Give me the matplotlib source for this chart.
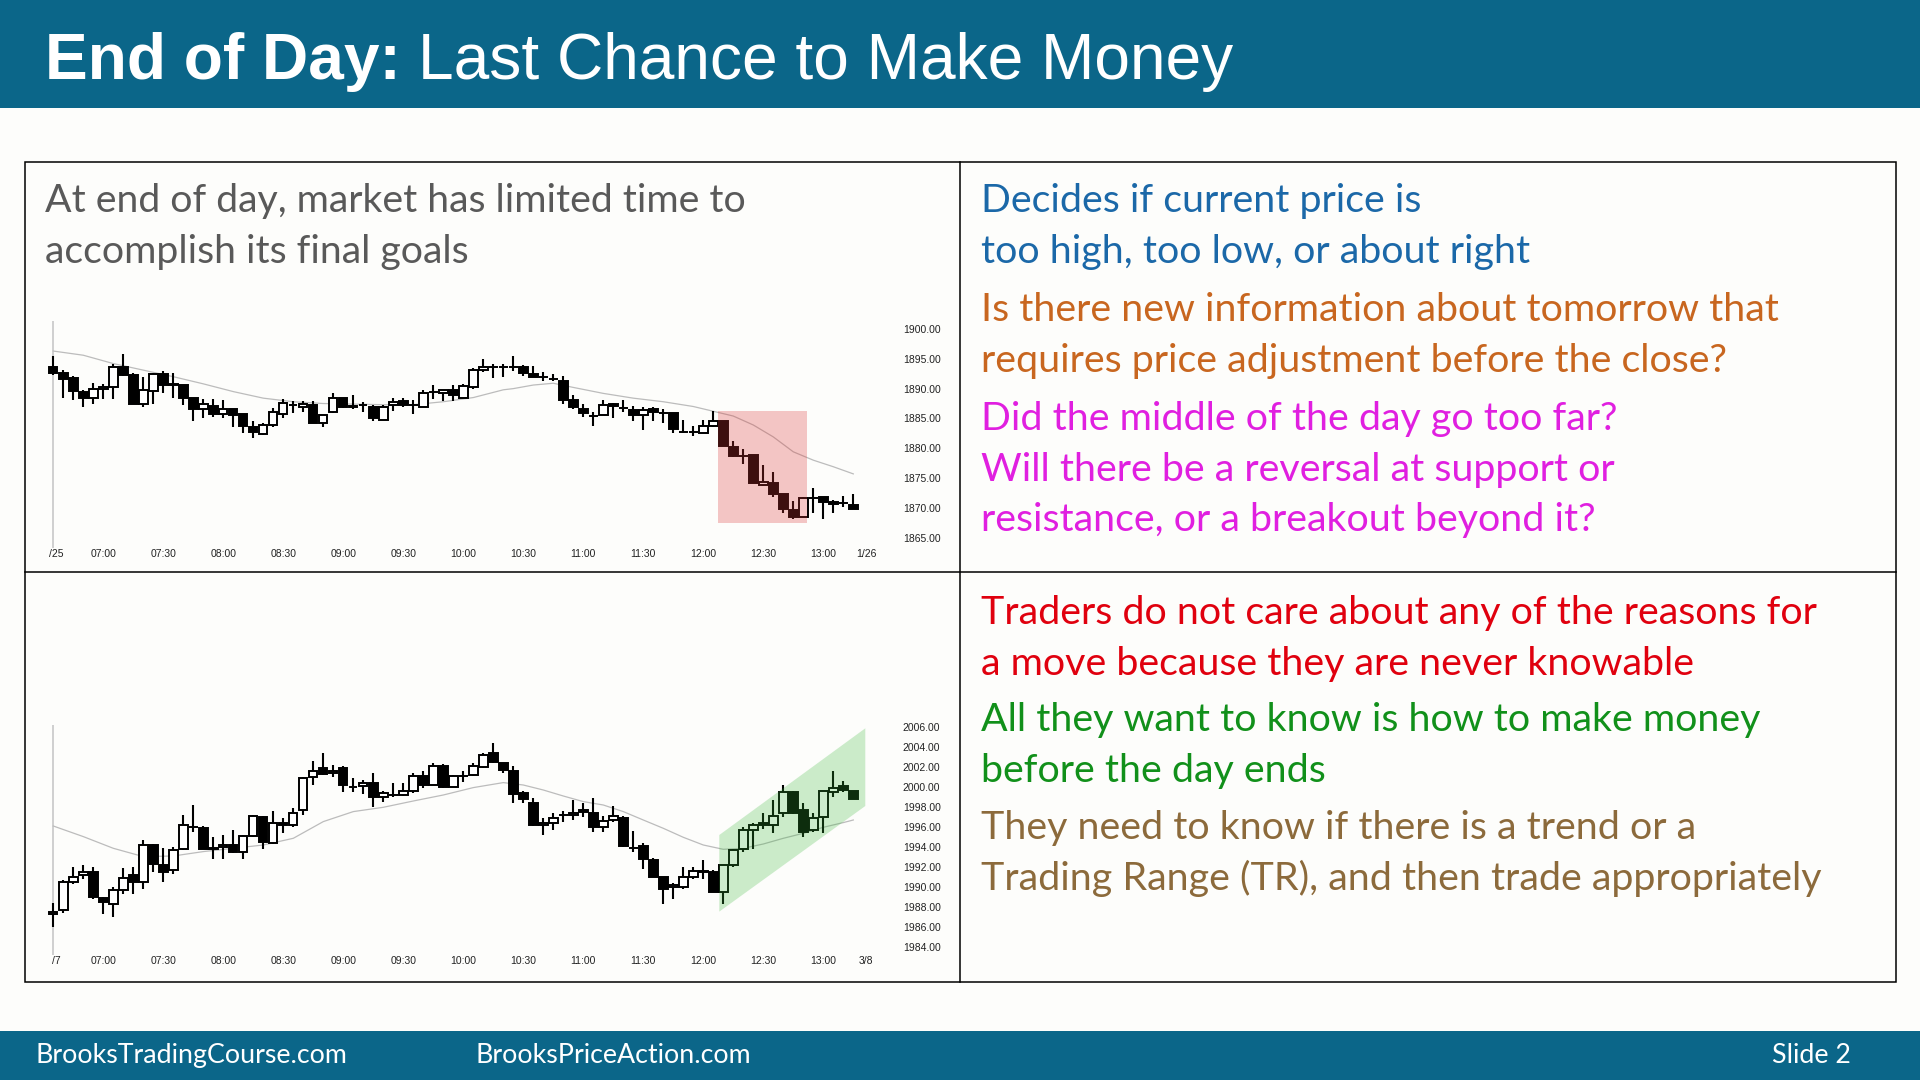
import matplotlib
matplotlib.use('Agg')
import matplotlib.pyplot as plt
from matplotlib.patches import Rectangle, Polygon
from matplotlib.ticker import FormatStrFormatter
import numpy as np

# ---- top chart: 5 min bars, 1/25 (open, high, low, close) ----
top_open = [1893.7, 1892.7, 1891.7, 1889.5, 1888.5, 1890.0, 1890.2, 1893.7, 1892.2, 1887.5,
            1889.6, 1892.4, 1890.7, 1890.6, 1888.4, 1886.5, 1887.1, 1885.7, 1886.6, 1885.7,
            1883.5, 1882.4, 1883.9, 1885.7, 1887.3, 1886.9, 1887.2, 1884.2, 1886.0, 1888.4,
            1887.1, 1887.2, 1887.0, 1884.7, 1887.2, 1887.9, 1887.2, 1887.0, 1889.5, 1889.3,
            1889.8, 1888.5, 1890.2, 1893.1, 1893.6, 1893.6, 1893.6, 1893.7, 1892.5, 1891.9,
            1891.6, 1891.3, 1888.1, 1886.6, 1885.4, 1885.5, 1887.5, 1886.7, 1886.4, 1885.6,
            1886.6, 1885.9, 1885.9, 1882.8, 1882.8, 1882.6, 1883.7, 1884.6, 1880.2, 1878.7,
            1878.9, 1873.9, 1874.2, 1872.3, 1869.6, 1868.5, 1871.7, 1871.9, 1871.0, 1870.8,
            1870.4]
top_high = [1895.4, 1893.1, 1892.1, 1889.8, 1890.9, 1890.8, 1894.2, 1895.8, 1892.7, 1892.0,
            1892.6, 1893.0, 1892.7, 1890.6, 1888.5, 1888.2, 1888.2, 1888.1, 1886.6, 1885.7,
            1884.6, 1884.3, 1886.7, 1888.2, 1888.0, 1888.0, 1888.0, 1885.6, 1889.2, 1888.5,
            1888.9, 1887.8, 1887.3, 1887.3, 1888.5, 1888.5, 1888.1, 1889.7, 1890.6, 1889.8,
            1890.6, 1890.8, 1893.4, 1894.9, 1894.2, 1894.2, 1895.4, 1894.0, 1893.8, 1892.8,
            1892.5, 1892.1, 1888.9, 1887.5, 1886.1, 1888.1, 1887.6, 1888.1, 1887.1, 1886.9,
            1887.0, 1886.5, 1885.9, 1884.7, 1883.7, 1884.8, 1886.2, 1884.6, 1881.2, 1879.8,
            1878.9, 1877.2, 1876.0, 1872.3, 1871.2, 1871.8, 1873.4, 1871.9, 1871.3, 1872.0,
            1872.3]
top_low = [1892.3, 1888.5, 1888.1, 1886.9, 1887.5, 1888.2, 1888.2, 1892.1, 1887.5, 1886.9,
           1887.4, 1889.2, 1888.5, 1887.3, 1884.5, 1885.0, 1885.2, 1885.0, 1883.5, 1882.5,
           1881.8, 1882.2, 1883.5, 1885.0, 1885.9, 1886.1, 1884.2, 1883.5, 1885.9, 1886.7,
           1886.5, 1886.1, 1884.5, 1884.7, 1886.3, 1886.9, 1885.7, 1886.9, 1888.2, 1888.0,
           1888.0, 1888.5, 1890.0, 1892.8, 1891.7, 1892.0, 1893.0, 1892.1, 1891.9, 1891.3,
           1891.2, 1887.5, 1886.5, 1885.2, 1883.7, 1885.5, 1885.0, 1886.0, 1884.6, 1883.1,
           1884.6, 1884.3, 1882.6, 1882.5, 1882.1, 1882.5, 1883.6, 1880.3, 1878.6, 1877.4,
           1874.1, 1873.6, 1871.9, 1869.1, 1868.1, 1868.4, 1869.1, 1868.1, 1869.1, 1870.2,
           1869.8]
top_close = [1892.7, 1891.6, 1889.6, 1888.5, 1889.9, 1890.2, 1893.7, 1892.2, 1887.5, 1889.7,
             1892.4, 1890.6, 1890.6, 1888.5, 1886.5, 1887.4, 1885.7, 1886.6, 1885.6, 1883.7,
             1882.8, 1883.9, 1886.0, 1887.6, 1887.2, 1887.4, 1884.3, 1885.6, 1888.4, 1887.0,
             1887.0, 1887.2, 1885.0, 1887.0, 1887.8, 1887.2, 1887.2, 1889.2, 1889.5, 1889.7,
             1888.9, 1890.4, 1893.2, 1893.7, 1893.6, 1893.6, 1893.6, 1892.7, 1892.0, 1891.9,
             1891.6, 1888.1, 1887.0, 1885.9, 1885.4, 1887.3, 1887.1, 1886.7, 1885.6, 1886.4,
             1886.1, 1885.9, 1883.3, 1882.8, 1882.8, 1883.7, 1884.6, 1880.4, 1878.7, 1878.7,
             1874.2, 1874.3, 1872.3, 1869.8, 1868.5, 1871.7, 1871.7, 1871.0, 1870.6, 1870.8,
             1869.8]
top_ema_bar = [0, 3, 6, 9, 12, 15, 18, 21, 24, 27, 30, 33, 36, 39, 42, 45, 46, 48, 50, 52,
               55, 58, 61, 64, 66, 68, 70, 72, 74, 76, 78, 80]
top_ema = [1896.3, 1895.6, 1894.2, 1893.1, 1892.0, 1890.8, 1889.5, 1888.4, 1887.8, 1887.5,
           1887.4, 1887.3, 1887.3, 1887.8, 1888.5, 1889.8, 1890.0, 1890.6, 1890.9, 1890.2,
           1889.2, 1888.4, 1887.8, 1887.0, 1886.2, 1885.4, 1883.9, 1881.9, 1879.4, 1878.0,
           1876.9, 1875.7]
top_zone = [66.5, 75.4, 1867.4, 1886.2]  # bar from, bar to, price low, price high
top_price_ticks = [1865, 1870, 1875, 1880, 1885, 1890, 1895, 1900]
top_dates = ['/25', '1/26']

# ---- bottom chart: 5 min bars, 3/7 ----
bot_open = [1987.33, 1987.73, 1990.5, 1991.27, 1991.5, 1988.97, 1988.3, 1989.73, 1991.23, 1990.5,
            1994.2, 1992.2, 1991.73, 1993.8, 1996.0, 1995.97, 1993.87, 1994.0, 1994.2, 1993.5,
            1995.17, 1997.0, 1994.47, 1996.47, 1996.23, 1997.73, 2001.0, 2001.9, 2001.47, 2001.9,
            2000.0, 2000.17, 2000.47, 1999.0, 1999.23, 1999.23, 1999.67, 2001.17, 2000.23, 2002.17,
            2000.07, 2001.1, 2001.23, 2002.07, 2003.4, 2002.4, 2001.67, 1999.4, 1998.47, 1996.2,
            1996.47, 1997.23, 1997.23, 1997.73, 1997.4, 1996.0, 1996.73, 1996.9, 1993.97, 1994.17,
            1992.73, 1991.0, 1990.07, 1990.07, 1991.0, 1991.5, 1991.5, 1989.5, 1992.23, 1993.8,
            1995.73, 1996.4, 1996.23, 1997.47, 1999.5, 1997.73, 1995.73, 1997.0, 1999.57, 2000.13,
            1999.63]
bot_high = [1988.47, 1990.73, 1992.0, 1992.23, 1992.07, 1989.07, 1990.07, 1991.97, 1992.07, 1994.73,
            1994.33, 1993.93, 1994.0, 1997.23, 1998.23, 1996.13, 1995.0, 1995.2, 1995.73, 1995.23,
            1997.23, 1997.17, 1997.67, 1996.9, 1997.9, 2001.0, 2002.67, 2003.4, 2002.23, 2002.13,
            2000.9, 2000.73, 2001.4, 1999.67, 2000.4, 2000.47, 2001.4, 2001.67, 2002.47, 2002.3,
            2001.23, 2001.67, 2002.47, 2003.4, 2004.47, 2002.47, 2002.13, 1999.67, 1998.9, 1996.9,
            1997.47, 1997.67, 1998.73, 1998.4, 1998.9, 1997.13, 1998.13, 1997.13, 1995.67, 1994.4,
            1992.97, 1991.0, 1990.4, 1992.07, 1992.07, 1992.73, 1991.73, 1992.23, 1993.8, 1996.0,
            1996.4, 1997.47, 1998.73, 2000.23, 1999.67, 1998.47, 1997.4, 1999.67, 2001.67, 2000.67,
            1999.63]
bot_low = [1986.07, 1987.47, 1990.33, 1990.8, 1988.83, 1987.3, 1987.07, 1989.33, 1989.3, 1989.8,
           1991.57, 1990.57, 1991.33, 1993.73, 1995.57, 1993.8, 1992.8, 1992.8, 1993.47, 1992.8,
           1995.0, 1993.8, 1994.33, 1995.47, 1996.07, 1997.23, 2000.23, 2001.23, 2001.07, 1999.57,
           1999.57, 1999.33, 1998.0, 1998.57, 1999.07, 1999.13, 1999.47, 1999.9, 2000.23, 1999.9,
           2000.07, 2000.57, 2001.13, 2001.9, 2002.4, 2001.47, 1998.47, 1998.47, 1996.13, 1995.23,
           1995.73, 1996.57, 1996.73, 1997.07, 1995.57, 1995.57, 1996.57, 1994.0, 1993.57, 1991.8,
           1991.0, 1988.33, 1988.8, 1989.8, 1990.8, 1990.8, 1989.57, 1988.33, 1992.07, 1993.57,
           1993.8, 1995.8, 1995.47, 1997.0, 1997.33, 1995.07, 1995.57, 1995.47, 1999.0, 1999.5,
           1998.8]
bot_close = [1987.5, 1990.5, 1991.0, 1991.5, 1989.07, 1988.57, 1989.73, 1990.97, 1990.57, 1994.2,
             1992.3, 1991.57, 1993.73, 1996.2, 1996.0, 1993.8, 1993.97, 1994.2, 1993.57, 1995.17,
             1997.17, 1994.53, 1996.4, 1996.27, 1997.4, 2000.9, 2001.67, 2001.3, 2001.67, 2000.23,
             2000.0, 2000.47, 1999.0, 1999.4, 1999.23, 1999.67, 2001.17, 2000.23, 2002.17, 2000.07,
             2001.17, 2001.1, 2002.17, 2003.23, 2002.5, 2001.73, 1999.33, 1998.8, 1996.2, 1996.47,
             1996.9, 1997.23, 1997.4, 1997.5, 1996.0, 1996.67, 1997.13, 1994.13, 1993.97, 1992.8,
             1991.0, 1989.8, 1990.2, 1991.0, 1991.67, 1991.67, 1989.57, 1992.23, 1993.73, 1995.73,
             1996.2, 1996.23, 1997.17, 1999.5, 1997.47, 1995.5, 1996.9, 1999.67, 1999.9, 1999.73,
             1998.8]
bot_ema_bar = [0, 3, 6, 9, 12, 15, 18, 21, 24, 27, 30, 33, 36, 39, 42, 45, 47, 49, 51, 53,
               55, 57, 59, 61, 63, 65, 67, 69, 71, 73, 75, 77, 79, 80]
bot_ema = [1996.13, 1995.07, 1993.9, 1993.07, 1993.13, 1993.57, 1993.9, 1994.23, 1994.9, 1996.57,
           1997.57, 1998.0, 1998.63, 1999.23, 1999.97, 2000.47, 2000.23, 1999.73, 1999.13, 1998.57,
           1998.23, 1997.57, 1996.73, 1995.9, 1995.0, 1994.23, 1993.8, 1993.9, 1994.33, 1994.9,
           1995.4, 1996.0, 1996.47, 1996.73]
bot_channel_bar = [66.6, 66.6, 81.2, 81.2]
bot_channel_price = [1987.57, 1995.23, 2005.9, 1998.13]
bot_price_ticks = [1984, 1986, 1988, 1990, 1992, 1994, 1996, 1998, 2000, 2002, 2004, 2006]
bot_dates = ['/7', '3/8']

time_labels = ['07:00', '07:30', '08:00', '08:30', '09:00', '09:30', '10:00',
               '10:30', '11:00', '11:30', '12:00', '12:30', '13:00']
time_bar = [5, 11, 17, 23, 29, 35, 41, 47, 53, 59, 65, 71, 77]
date_bar = [0.3, 81.3]

title_bold = 'End of Day:'
title_rest = 'Last Chance to Make Money'
left_lines = ['At end of day, market has limited time to', 'accomplish its final goals']
right_lines = [
    ('Decides if current price is', '#1b68a8'),
    ('too high, too low, or about right', '#1b68a8'),
    ('Is there new information about tomorrow that', '#c8661f'),
    ('requires price adjustment before the close?', '#c8661f'),
    ('Did the middle of the day go too far?', '#e01fe0'),
    ('Will there be a reversal at support or', '#e01fe0'),
    ('resistance, or a breakout beyond it?', '#e01fe0'),
    ('Traders do not care about any of the reasons for', '#e0000e'),
    ('a move because they are never knowable', '#e0000e'),
    ('All they want to know is how to make money', '#11901a'),
    ('before the day ends', '#11901a'),
    ('They need to know if there is a trend or a', '#8c6a3b'),
    ('Trading Range (TR), and then trade appropriately', '#8c6a3b'),
]
footer_left = ['BrooksTradingCourse.com', 'BrooksPriceAction.com']
footer_right = 'Slide 2'

BLUE = '#0b6689'
BG = '#fdfdfb'

fig = plt.figure(figsize=(19.2, 10.8), dpi=100)
fig.patch.set_facecolor(BG)
renderer = fig.canvas.get_renderer()

bg = fig.add_axes([0, 0, 1, 1])
bg.set_xlim(0, 1920)
bg.set_ylim(1080, 0)
bg.axis('off')


def width_px(text, size, **kw):
    t = bg.text(0, 0, text, fontsize=size, **kw)
    w = t.get_window_extent(renderer).width
    t.remove()
    return w


# header / footer bands
bg.add_patch(Rectangle((0, 0), 1920, 108, color=BLUE, lw=0))
bg.add_patch(Rectangle((0, 1031), 1920, 49, color=BLUE, lw=0))

# title, fitted to the width it has on the slide
tf = dict(family='Liberation Sans', color='white')
wb = width_px(title_bold, 20, weight='bold', **tf)
wr = width_px(title_rest, 20, **tf)
gap = 20 / 0.72 * 0.278          # a space at size 20, in px
ts = 20 * 1186 / (wb + gap + wr)
bg.text(45, 79, title_bold, fontsize=ts, weight='bold', va='baseline', **tf)
bg.text(45 + (wb + gap) * ts / 20, 79, title_rest, fontsize=ts, va='baseline', **tf)

# frame of the two panels
bg.add_patch(Rectangle((24.5, 162), 1871, 820, fill=False, ec='black', lw=1.1))
bg.plot([960, 960], [162, 982], color='black', lw=1.1)
bg.plot([24.5, 1895.5], [572, 572], color='black', lw=1.1)

# body text
body = 'Lato'
ls = 20 * 703 / width_px(left_lines[0], 20, family=body)
for line, yb in zip(left_lines, [212, 263]):
    bg.text(45, yb, line, fontsize=ls, family=body, color='#595959', va='baseline')

rs = 20 * 842 / width_px(right_lines[-1][0], 20, family=body)
right_base = [212, 263, 321, 372, 430, 481, 531, 624, 675, 731, 782, 839, 890]
for (line, col), yb in zip(right_lines, right_base):
    bg.text(981, yb, line, fontsize=rs, family=body, color=col, va='baseline')

# footer
fs = 20 * 311 / width_px(footer_left[0], 20, family=body)
bg.text(35, 1063, footer_left[0], fontsize=fs, family=body, color='white', va='baseline')
bg.text(475, 1063, footer_left[1], fontsize=fs, family=body, color='white', va='baseline')
bg.text(1851, 1063, footer_right, fontsize=fs, family=body, color='white', va='baseline', ha='right')


def candle_axes(top, bottom, ylo, yhi):
    ax = fig.add_axes([48 / 1920, 1 - bottom / 1080, 832 / 1920, (bottom - top) / 1080])
    ax.set_facecolor('none')
    ax.set_xlim(-0.53, 82.67)
    ax.set_ylim(ylo, yhi)
    for s in ax.spines.values():
        s.set_visible(False)
    ax.yaxis.tick_right()
    ax.tick_params(axis='y', length=0, pad=16.5, labelsize=7.5, labelcolor='#222222')
    ax.tick_params(axis='x', length=0, pad=0.5, labelsize=7.5, labelcolor='#222222')
    ax.yaxis.set_major_formatter(FormatStrFormatter('%.2f'))
    ax.axvline(0, color='#c8c8c8', lw=1.2, zorder=1)
    return ax


def draw_candles(ax, o, h, l, c):
    o, h, l, c = map(np.asarray, (o, h, l, c))
    x = np.arange(len(o))
    ax.vlines(x, l, h, color='black', lw=1.5, zorder=3)
    cols = np.where(c >= o, 'white', 'black')
    ax.bar(x, c - o, bottom=o, width=0.84, color=cols, edgecolor='black', linewidth=1.4, zorder=4)


def set_xticks(ax, dates):
    ax.set_xticks(time_bar + date_bar)
    ax.set_xticklabels(time_labels + dates, family='Liberation Sans')


# top chart
ax1 = candle_axes(321, 548, 1863.27, 1901.34)
ax1.plot(top_ema_bar, top_ema, color='#bcbcbc', lw=0.9, zorder=2)
draw_candles(ax1, top_open, top_high, top_low, top_close)
ax1.add_patch(Rectangle((top_zone[0], top_zone[2]), top_zone[1] - top_zone[0],
                        top_zone[3] - top_zone[2], facecolor='#dc3737', alpha=0.28, lw=0, zorder=5))
ax1.set_yticks(top_price_ticks)
set_xticks(ax1, top_dates)

# bottom chart
ax2 = candle_axes(725, 955, 1983.23, 2006.23)
ax2.plot(bot_ema_bar, bot_ema, color='#bcbcbc', lw=0.9, zorder=2)
draw_candles(ax2, bot_open, bot_high, bot_low, bot_close)
ax2.add_patch(Polygon(list(zip(bot_channel_bar, bot_channel_price)), closed=True,
                      facecolor='#37b737', alpha=0.25, lw=0, zorder=5))
ax2.set_yticks(bot_price_ticks)
set_xticks(ax2, bot_dates)

for ax in (ax1, ax2):
    for lab in ax.get_yticklabels():
        lab.set_family('Liberation Sans')

fig.savefig('out.png', dpi=100, facecolor=BG)
